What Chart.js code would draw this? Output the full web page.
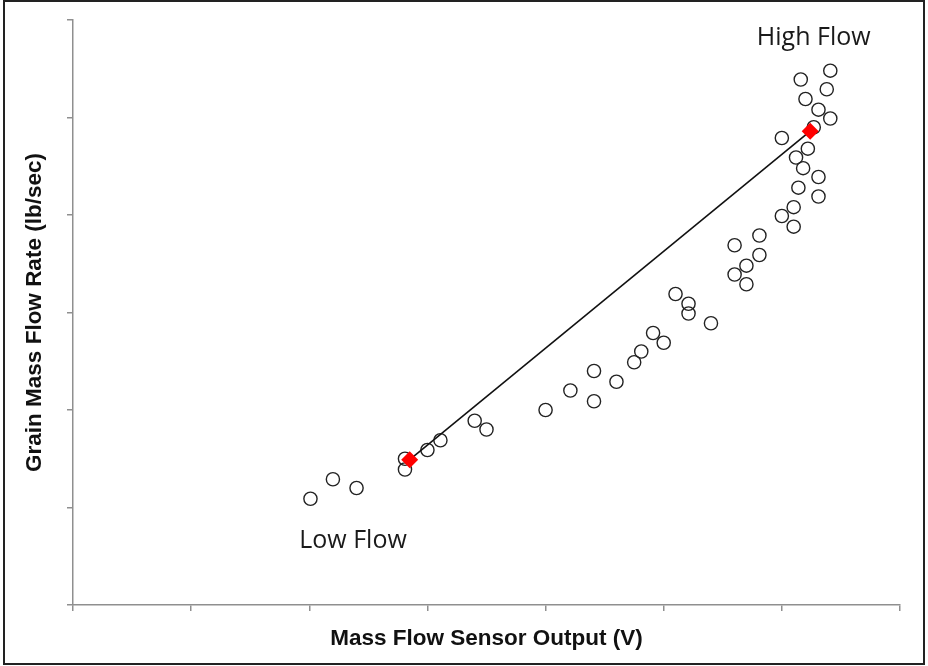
<!DOCTYPE html>
<html>
<head>
<meta charset="utf-8">
<title>Mass Flow Sensor Calibration</title>
<script src="https://cdn.jsdelivr.net/npm/chart.js@4.4.1/dist/chart.umd.min.js"></script>
<style>
    html, body { margin: 0; padding: 0; background: #fff; }
    #wrap { position: relative; width: 928px; height: 666px; }
    #frame {
        position: absolute; left: 3px; top: 0; width: 922px; height: 665px;
        box-sizing: border-box; border: 2px solid #222; pointer-events: none;
    }
</style>
</head>
<body>
<div id="wrap">
    <canvas id="flowChart" width="928" height="666"></canvas>
    <div id="frame"></div>
</div>
<script>
// Measured points: sensor output (V) vs grain mass flow (lb/sec)
const sensorV = [
    2.01, 2.20, 2.40, 2.81, 2.81, 3.00, 3.11, 3.40, 3.50,
    4.00, 4.21, 4.41, 4.41, 4.60, 4.75, 4.81, 4.91, 5.00, 5.10, 5.21, 5.21, 5.40,
    5.60, 5.81, 5.81, 5.70, 5.60, 5.70, 6.00, 6.10, 6.10, 6.14, 6.31, 6.31,
    6.12, 6.18, 6.22, 6.00, 6.27, 6.41, 6.31, 6.20, 6.38, 6.16, 6.41
];
const flowRate = [
    1.09, 1.29, 1.20, 1.50, 1.39, 1.59, 1.69, 1.89, 1.80,
    2.00, 2.20, 2.40, 2.09, 2.29, 2.49, 2.60, 2.79, 2.69, 3.19, 3.09, 2.99, 2.89,
    3.69, 3.79, 3.59, 3.48, 3.39, 3.29, 3.99, 4.08, 3.88, 4.28, 4.39, 4.19,
    4.59, 4.48, 4.68, 4.79, 4.90, 4.99, 5.08, 5.19, 5.29, 5.39, 5.48
];

// Two-point calibration line (low flow / high flow)
const calV = [2.85, 6.24];
const calFlow = [1.49, 4.86];

// Axis ranges (ticks every 1 unit, labels hidden)
const xMax = 7;
const yMax = 6;

// Text notes placed at data coordinates
const noteText = ['High Flow', 'Low Flow'];
const noteV = [6.27, 2.37];
const noteFlow = [5.82, 0.66];

const toPoints = (xs, ys) => xs.map((x, i) => ({ x: x, y: ys[i] }));

// Draw the flow notes after the datasets
const notesPlugin = {
    id: 'flowNotes',
    afterDraw(chart) {
        const { ctx, scales } = chart;
        ctx.save();
        ctx.font = '25px "Open Sans", sans-serif';
        ctx.fillStyle = '#1a1a1a';
        ctx.textAlign = 'center';
        ctx.textBaseline = 'middle';
        noteText.forEach((t, i) => {
            ctx.fillText(t, scales.x.getPixelForValue(noteV[i]), scales.y.getPixelForValue(noteFlow[i]));
        });
        ctx.restore();
    }
};

const axisColor = '#8f8f8f';
const titleFont = { family: '"Liberation Sans", Arial, sans-serif', size: 22.5, weight: 'bold', lineHeight: 1.2 };

new Chart(document.getElementById('flowChart').getContext('2d'), {
    type: 'scatter',
    data: {
        datasets: [
            {
                label: 'Calibration',
                data: toPoints(calV, calFlow),
                showLine: true,
                borderColor: '#111',
                borderWidth: 1.6,
                pointStyle: 'rectRot',
                pointRadius: 8.5,
                pointBackgroundColor: '#ff0000',
                pointBorderColor: '#ff0000',
                pointBorderWidth: 0,
                order: 0
            },
            {
                label: 'Measured',
                data: toPoints(sensorV, flowRate),
                pointStyle: 'circle',
                pointRadius: 6.6,
                pointBorderWidth: 1.4,
                pointBorderColor: '#222',
                pointBackgroundColor: 'rgba(0,0,0,0)',
                order: 1
            }
        ]
    },
    options: {
        responsive: false,
        animation: false,
        events: [],
        layout: { padding: { left: 8, right: 28, top: 20, bottom: 4 } },
        plugins: {
            legend: { display: false },
            tooltip: { enabled: false }
        },
        scales: {
            x: {
                type: 'linear',
                min: 0,
                max: xMax,
                ticks: { display: false, stepSize: 1 },
                grid: { drawOnChartArea: false, drawTicks: true, tickLength: 6, color: axisColor, lineWidth: 1.5 },
                border: { color: axisColor, width: 1.5 },
                title: {
                    display: true,
                    text: 'Mass Flow Sensor Output (V)',
                    color: '#111',
                    font: titleFont,
                    padding: { top: 14.5, bottom: 9.5 }
                }
            },
            y: {
                type: 'linear',
                min: 0,
                max: yMax,
                ticks: { display: false, stepSize: 1 },
                grid: { drawOnChartArea: false, drawTicks: true, tickLength: 6, color: axisColor, lineWidth: 1.5 },
                border: { color: axisColor, width: 1.5 },
                title: {
                    display: true,
                    text: 'Grain Mass Flow Rate (lb/sec)',
                    color: '#111',
                    font: titleFont,
                    padding: { top: 13.1, bottom: 18.9 }
                }
            }
        }
    },
    plugins: [notesPlugin]
});
</script>
</body>
</html>
